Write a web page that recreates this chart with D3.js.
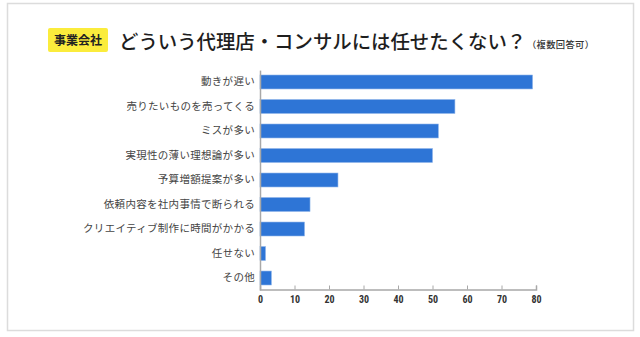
<!DOCTYPE html>
<html><head><meta charset="utf-8">
<script src="https://cdn.jsdelivr.net/npm/d3@7"></script>
<style>
html,body{margin:0;padding:0;background:#fff;}
svg{display:block;font-family:"Noto Sans CJK JP","Noto Sans",sans-serif;}
</style></head>
<body>
<svg id="c" width="640" height="337"></svg>
<script>
const categories = ["動きが遅い","売りたいものを売ってくる","ミスが多い","実現性の薄い理想論が多い","予算増額提案が多い","依頼内容を社内事情で断られる","クリエイティブ制作に時間がかかる","任せない","その他"];
const values = [79, 56.5, 51.7, 50, 22.6, 14.5, 12.9, 1.6, 3.3];
const xTicks = [0,10,20,30,40,50,60,70,80];
const badgeText = "事業会社";
const titleText = "どういう代理店・コンサルには任せたくない？";
const noteText = "（複数回答可）";

const svg = d3.select("#c");
// frame
svg.append("rect").attr("x",7.5).attr("y",3.5).attr("width",626).attr("height",327)
  .attr("fill","#fff").attr("stroke","#dcdcdc").attr("stroke-width",1.5);

// badge
svg.append("rect").attr("x",48).attr("y",28).attr("width",60).attr("height",24).attr("rx",2)
  .attr("fill","#fbec3c");
svg.append("text").attr("x",78).attr("y",44.5).attr("text-anchor","middle")
  .attr("font-size",12).attr("font-weight",700).attr("fill","#222").text(badgeText);
// title
svg.append("text").attr("x",119).attr("y",49).attr("font-size",19.4)
  .attr("font-weight",500).attr("fill","#1e1e1e").text(titleText);
svg.append("text").attr("x",527).attr("y",47.5).attr("font-size",9.3)
  .attr("font-weight",500).attr("fill","#333").attr("textLength",67).text(noteText);

const x = d3.scaleLinear().domain([0,80]).range([260,536]);
const y = d3.scaleBand().domain(categories).range([70.1,289.9]).paddingInner(0.43).paddingOuter(0.2);

// bars
svg.append("g").selectAll("rect").data(values).join("rect")
  .attr("x",x(0)).attr("y",(d,i)=>y(categories[i]))
  .attr("width",d=>x(d)-x(0)).attr("height",y.bandwidth())
  .attr("fill","#2e75d6").attr("stroke","#8fb5ea").attr("stroke-width",0.6);

// y axis
const ya = svg.append("g").attr("transform",`translate(${x(0)},0)`)
  .call(d3.axisLeft(y).tickSize(0).tickPadding(5));
ya.select(".domain").attr("stroke","#a8a8a8").attr("stroke-width",1.5);
ya.selectAll("text").attr("font-size",10.5).attr("fill","#444").attr("letter-spacing","0.3px")
  .attr("font-family","\"Noto Sans CJK JP\",sans-serif");

// x axis
const xa = svg.append("g").attr("transform",`translate(0,289.5)`)
  .call(d3.axisBottom(x).tickValues(xTicks).tickSize(-4).tickSizeOuter(-4).tickPadding(6));
xa.select(".domain").attr("stroke","#a8a8a8").attr("stroke-width",1.5);
xa.selectAll(".tick line").attr("stroke","#a8a8a8").attr("stroke-width",1);
xa.selectAll("text").attr("font-size",10).attr("font-weight",700).attr("fill","#333")
  .attr("font-family","\"Roboto Condensed\",\"Liberation Sans Narrow\",\"Roboto\",sans-serif");
</script>
</body></html>
